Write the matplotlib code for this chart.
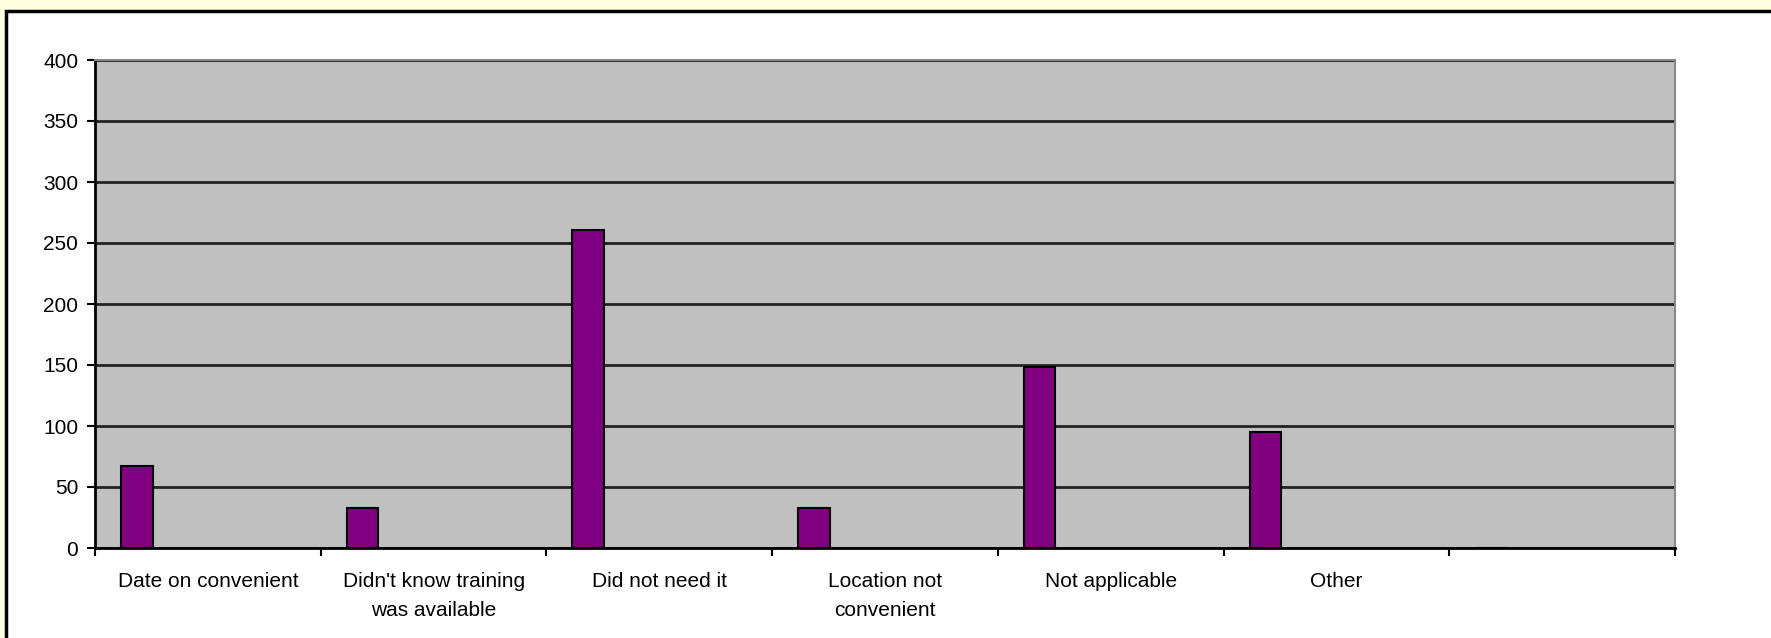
import matplotlib
matplotlib.use("Agg")
import matplotlib.pyplot as plt
from matplotlib.patches import Rectangle
import numpy as np

categories = ["Date on convenient", "Didn't know training\nwas available", "Did not need it",
              "Location not\nconvenient", "Not applicable", "Other", ""]
values = [67, 33, 261, 33, 148, 95, 0]
yticks = [0, 50, 100, 150, 200, 250, 300, 350, 400]

plt.rcParams['font.family'] = ['Liberation Sans', 'DejaVu Sans']

W, H = 1771, 638
fig = plt.figure(figsize=(W / 100, H / 100), dpi=100)
fig.patch.set_facecolor('#FFFFE1')

# white chart area with black border (background axes)
bg = fig.add_axes([0, 0, 1, 1], zorder=0)
bg.set_xlim(0, W)
bg.set_ylim(H, 0)
bg.axis('off')
bg.add_patch(Rectangle((6, 11), W + 50, H + 50, facecolor='white', edgecolor='black', linewidth=2.5))

left, right, top, bottom = 95, 1675, 60, 548
ax = fig.add_axes([left / W, 1 - bottom / H, (right - left) / W, (bottom - top) / H], zorder=1)
ax.set_facecolor('#C0C0C0')

n = len(categories)
x = np.arange(n)
ax.bar(x - 0.5 + 0.115, values, width=0.14, align='edge', color='#800080',
       edgecolor='black', linewidth=1.5, zorder=3)

ax.set_xlim(-0.5, n - 0.5)
ax.set_ylim(0, 400)
ax.set_yticks(yticks)
ax.yaxis.grid(True, color='#222222', linewidth=2)
ax.set_axisbelow(True)

ax.set_xticks(np.arange(n + 1) - 0.5)
ax.set_xticklabels([])
ax.set_xticks(x, minor=True)
ax.set_xticklabels(categories, minor=True, fontsize=15, linespacing=1.7, va='top')
ax.tick_params(axis='x', which='major', length=6, width=1.5, direction='out', color='black')
ax.tick_params(axis='x', which='minor', length=0, pad=17)
ax.tick_params(axis='y', length=6, width=1.5, direction='out', labelsize=15, pad=6)

for s in ['left', 'bottom']:
    ax.spines[s].set_color('black')
    ax.spines[s].set_linewidth(2)
for s in ['right', 'top']:
    ax.spines[s].set_color('#888888')
    ax.spines[s].set_linewidth(1.5)

fig.savefig('out.png', dpi=100, facecolor=fig.get_facecolor())
